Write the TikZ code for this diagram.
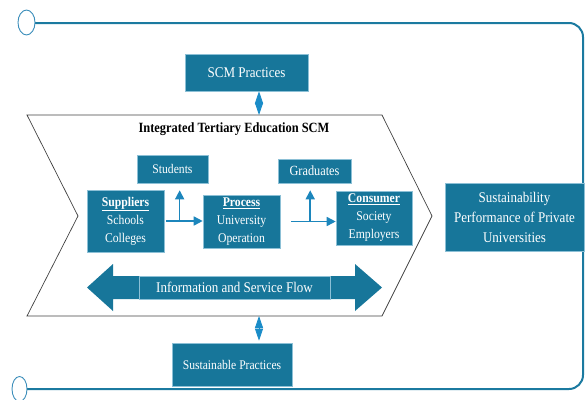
\documentclass[tikz,border=0pt]{standalone}
\usepackage{fontspec}
\setmainfont{Liberation Serif}[FakeStretch=0.88]
\usetikzlibrary{arrows.meta,calc}
\definecolor{boxblue}{HTML}{17769A}
\definecolor{frameblue}{HTML}{1B7AA0}
\definecolor{arrowblue}{HTML}{1C86BC}
\definecolor{dblblue}{HTML}{1A8CC8}
\definecolor{ringblue}{HTML}{3A8DBA}
\definecolor{boxedge}{HTML}{8CC0D6}
\begin{document}
\begin{tikzpicture}[x=1pt,y=-1pt,
 bx/.style={fill=boxblue,draw=boxedge,line width=0.6pt,text=white,align=center,inner sep=0pt,font=\fontsize{13.3}{18}\selectfont},
 bigtxt/.style={font=\fontsize{14.8}{20}\selectfont},
 flow/.style={draw=arrowblue,line width=1.6pt,-{Triangle[length=9pt,width=9pt]}},
 dbl/.style={draw=dblblue,line width=0.8pt,{Triangle[length=12pt,width=8pt]}-{Triangle[length=12pt,width=8pt]}},
 chev/.style={draw=black!75,line width=0.7pt},
]
\useasboundingbox (0,0) rectangle (585,399);
% frame
\draw[frameblue,line width=2pt,rounded corners=14pt] (35,23) -- (583,23) -- (583,389) -- (27,389);
\draw[ringblue,line width=0.9pt,fill=white] (26.5,22.5) ellipse [x radius=8.5,y radius=12.5];
\draw[ringblue,line width=0.9pt,fill=white] (19.5,389) ellipse [x radius=7.5,y radius=12.5];
% chevron
\draw[chev] (27,115) -- (382,115) -- (432,216) -- (382,316) -- (27,316) -- (78,216) -- cycle;
\coordinate (ct) at (259,115);
\coordinate (cb) at (259,316);
\node[font=\bfseries\fontsize{14.1}{16}\selectfont] (title) at (234,129) {Integrated Tertiary Education SCM};
% boxes
\node[bx,bigtxt,minimum width=123,minimum height=37] (scm) at (246.5,72.5) {SCM Practices};
\node[bx,font=\fontsize{13.2}{18}\selectfont,minimum width=71,minimum height=28] (stu) at (172.5,169) {Students};
\node[bx,minimum width=77,minimum height=62] (sup) at (125.5,221) {\underline{\textbf{Suppliers}}\\Schools\\Colleges};
\node[bx,minimum width=77,minimum height=53] (proc) at (241.5,221.5) {\underline{\textbf{Process}}\\University\\Operation};
\node[bx,font=\fontsize{14}{18}\selectfont,minimum width=73,minimum height=24] (grad) at (314.5,171) {Graduates};
\node[bx,minimum width=76,minimum height=54] (cons) at (374,218) {\underline{\textbf{Consumer}}\\Society\\Employers};
\node[bx,bigtxt,minimum width=139,minimum height=68] (sust) at (514.5,217) {Sustainability\\Performance of Private\\Universities};
\node[bx,font=\fontsize{13.2}{18}\selectfont,minimum width=120,minimum height=43] (sp) at (232,364.5) {Sustainable Practices};
% info flow arrow
\fill[boxblue] (87,287.5) -- (113,264) -- (113,276) -- (355,276) -- (355,264) -- (382,287.5) -- (355,311) -- (355,299) -- (113,299) -- (113,311) -- cycle;
\node[bx,bigtxt,minimum width=191,minimum height=23] (info) at (234.5,287.5) {Information and Service Flow};
% flow arrows
\coordinate (j1) at ($(sup.east)!0.4!(sup.east -| proc.west)$);
\draw[flow,shorten <=2pt] (sup.east) -- (sup.east -| proc.west);
\draw[flow,shorten >=7pt] (j1) -- (j1 |- stu.south);
\coordinate (j2) at ($(proc.east)!0.54!(proc.east -| cons.west)$);
\draw[flow,shorten <=11pt] (proc.east) -- (proc.east -| cons.west);
\draw[flow,shorten >=7pt] (j2) -- (j2 |- grad.south);
% double arrows
\draw[dbl] (ct |- scm.south) -- (ct);
\draw[dbl] (cb) -- ([yshift=2pt]cb |- sp.north);
\end{tikzpicture}
\end{document}
